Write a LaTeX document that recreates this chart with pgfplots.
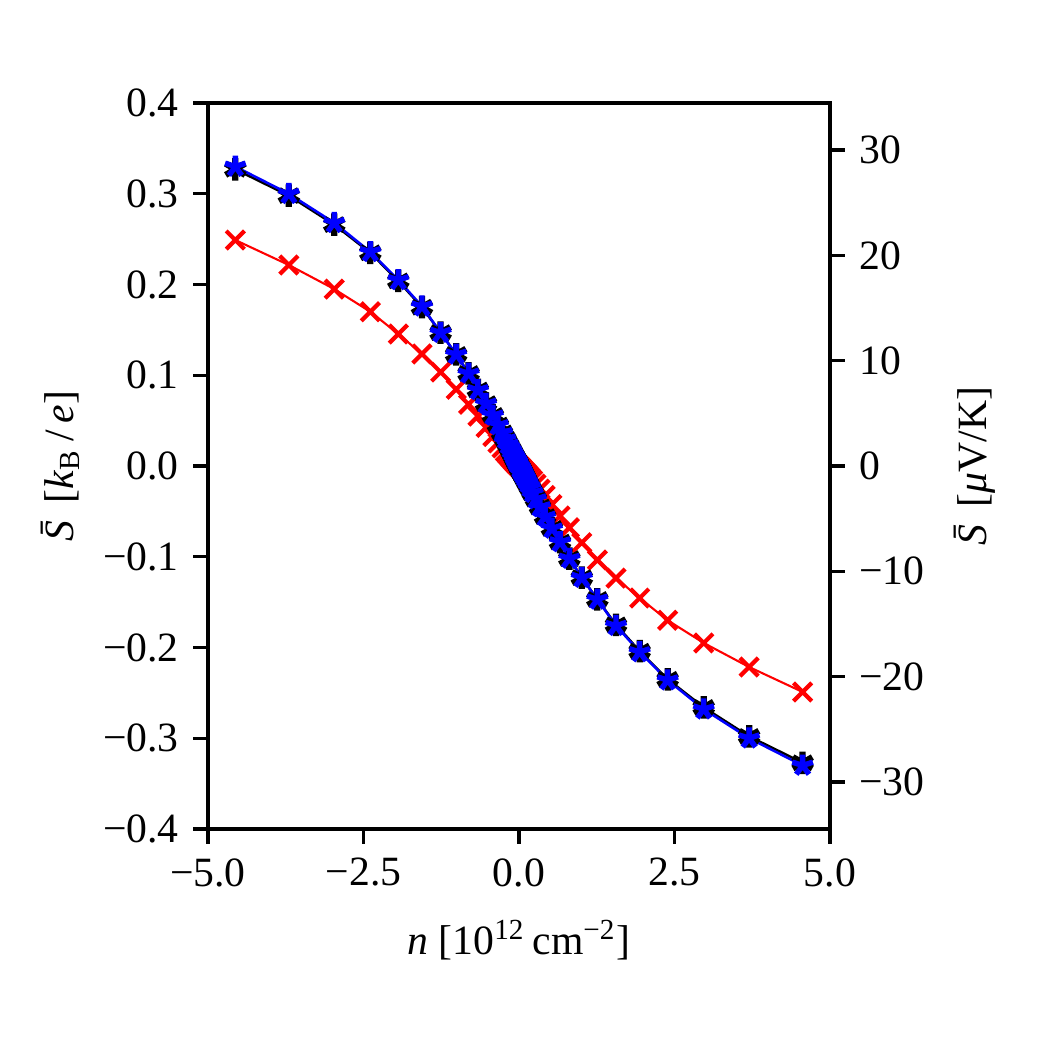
\documentclass[border=0pt]{standalone}
\usepackage{fontspec}
\setmainfont{Liberation Serif}
\usepackage{pgfplots}
\usepackage{pgfplotstable}
\pgfplotsset{compat=1.18}
\pgfplotstableread{
n black blue red
-4.56 0.327 0.330 0.249
-3.70 0.298 0.300 0.2215
-2.97 0.266 0.268 0.195
-2.39 0.235 0.236 0.170
-1.94 0.204 0.205 0.1455
-1.56 0.175 0.176 0.1235
-1.26 0.147 0.147 0.1035
-1.01 0.123 0.123 0.0845
-0.81 0.102 0.102 0.068
-0.66 0.0838 0.0838 0.055
-0.53 0.0688 0.0688 0.0425
-0.42 0.0558 0.0558 0.0325
-0.338 0.0452 0.0452 0.0255
-0.272 0.0365 0.0365 0.0200
-0.219 0.0295 0.0295 0.0158
-0.176 0.0237 0.0237 0.0125
-0.142 0.0191 0.0191 0.0099
-0.114 0.0154 0.0154 0.0079
-0.092 0.0124 0.0124 0.0063
-0.074 0.0100 0.0100 0.0051
-0.060 0.0081 0.0081 0.0041
-0.048 0.0065 0.0065 0.0033
-0.039 0.0053 0.0053 0.0027
-0.031 0.0042 0.0042 0.0021
-0.025 0.0034 0.0034 0.0017
-0.020 0.0027 0.0027 0.0014
-0.016 0.0022 0.0022 0.0011
0.016 -0.0022 -0.0022 -0.0011
0.020 -0.0027 -0.0027 -0.0014
0.025 -0.0034 -0.0034 -0.0017
0.031 -0.0042 -0.0042 -0.0021
0.039 -0.0053 -0.0053 -0.0027
0.048 -0.0065 -0.0065 -0.0033
0.060 -0.0081 -0.0081 -0.0041
0.074 -0.0100 -0.0100 -0.0051
0.092 -0.0124 -0.0124 -0.0063
0.114 -0.0154 -0.0154 -0.0079
0.142 -0.0191 -0.0191 -0.0099
0.176 -0.0237 -0.0237 -0.0125
0.219 -0.0295 -0.0295 -0.0158
0.272 -0.0365 -0.0365 -0.0200
0.338 -0.0452 -0.0452 -0.0255
0.42 -0.0558 -0.0558 -0.0325
0.53 -0.0688 -0.0688 -0.0425
0.66 -0.0838 -0.0838 -0.055
0.81 -0.102 -0.102 -0.068
1.01 -0.123 -0.123 -0.0845
1.26 -0.147 -0.147 -0.1035
1.56 -0.175 -0.176 -0.1235
1.94 -0.204 -0.205 -0.1455
2.39 -0.235 -0.236 -0.170
2.97 -0.266 -0.268 -0.195
3.70 -0.298 -0.300 -0.2215
4.56 -0.327 -0.330 -0.249
}\datatable
\begin{document}
\begin{tikzpicture}
\path[use as bounding box] (-49.92pt,-50.16pt) rectangle (199.2pt,198.96pt);
\begin{axis}[
  scale only axis, width=149.28pt, height=174.24pt,
  xmin=-5, xmax=5, ymin=-0.4, ymax=0.4,
  xtick={-5,-2.5,0,2.5,5},
  xticklabels={−5.0,−2.5,0.0,2.5,5.0},
  ytick={-0.4,-0.3,-0.2,-0.1,0,0.1,0.2,0.3,0.4},
  yticklabels={−0.4,−0.3,−0.2,−0.1,0.0,0.1,0.2,0.3,0.4},
  xtick pos=bottom, ytick pos=left,
  tick align=outside, major tick length=3.5pt,
  every tick/.style={black, line width=0.8pt},
  axis line style={line width=0.8pt},
  tick label style={font=\fontsize{10}{12}\selectfont},
  label style={font=\fontsize{10}{12}\selectfont},
  xlabel={\textit{n} [10\textsuperscript{12}\,cm\textsuperscript{−2}]},
  ylabel={\textit{\={S}}\,[\textit{k}\textsubscript{B}\,/\,\textit{e}]},
  x label style={at={(axis description cs:0.5,-0.153)}, anchor=center},
  y label style={at={(axis description cs:-0.237,0.5)}, anchor=center},
  clip=false,
]
\addplot[red, line width=0.5pt, mark=x, mark size=3.1pt, mark options={line width=1pt}] table[x=n, y=red] {\datatable};
\addplot[black, line width=0.6pt, mark=asterisk, mark size=2.7pt, mark options={line width=1.5pt}] table[x=n, y=black] {\datatable};
\addplot[blue, line width=0.6pt, mark=star, mark size=2.6pt, mark options={line width=1.3pt}] table[x=n, y=blue] {\datatable};
\end{axis}
\begin{axis}[
  scale only axis, width=149.28pt, height=174.24pt,
  xmin=-5, xmax=5, ymin=-34.468, ymax=34.468,
  axis x line=none, axis y line*=right,
  ytick={-30,-20,-10,0,10,20,30},
  yticklabels={−30,−20,−10,0,10,20,30},
  tick align=outside, major tick length=3.5pt,
  every tick/.style={black, line width=0.8pt},
  axis line style={line width=0.8pt, -},
  tick label style={font=\fontsize{10}{12}\selectfont},
  label style={font=\fontsize{10}{12}\selectfont},
  ylabel={\textit{\={S}}\,[\textit{μ}V/K]},
  y label style={at={(axis description cs:1.233,0.5)}, anchor=center, rotate=0},
]
\end{axis}
\end{tikzpicture}
\end{document}
